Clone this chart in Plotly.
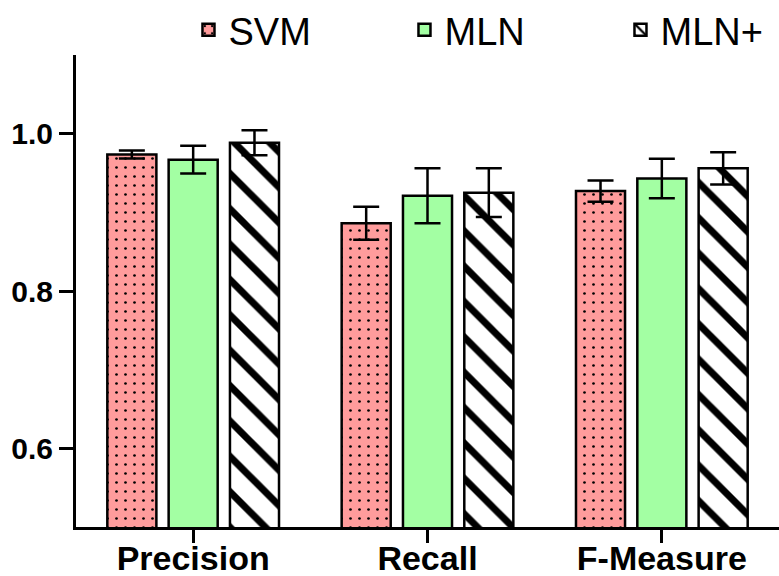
import plotly.graph_objects as go

categories = ["Precision", "Recall", "F-Measure"]
svm = [0.9735, 0.886, 0.927]
svm_err = [0.005, 0.021, 0.0135]
mln = [0.967, 0.921, 0.943]
mln_err = [0.0175, 0.035, 0.025]
mlnp = [0.9885, 0.925, 0.956]
mlnp_err = [0.016, 0.031, 0.0205]

series = [
    ("SVM", svm, svm_err, "#FF9C9C", dict(shape=".", fgcolor="black", bgcolor="#FF9C9C", size=9, solidity=0.07, fillmode="replace")),
    ("MLN", mln, mln_err, "#A3FFA3", None),
    ("MLN+", mlnp, mlnp_err, "white", dict(shape="\\", fgcolor="black", bgcolor="white", size=25, solidity=0.28, fillmode="replace")),
]

fig = go.Figure()
for name, vals, errs, col, pat in series:
    marker = dict(color=col, line=dict(color="black", width=2.5))
    if pat is not None:
        marker["pattern"] = pat
    fig.add_trace(go.Bar(
        name=name, x=categories, y=vals, marker=marker,
        error_y=dict(type="data", array=errs, visible=True, color="black", thickness=2.5, width=13),
    ))

fig.update_layout(
    width=779, height=576,
    margin=dict(l=76, r=0, t=55, b=49, autoexpand=False),
    paper_bgcolor="white", plot_bgcolor="white",
    barmode="group", bargap=0.215, bargroupgap=0.2,
    font=dict(family="Liberation Sans, Arial, sans-serif", color="black"),
    legend=dict(orientation="h", x=0.16, xanchor="left", y=1.053, yanchor="middle",
                font=dict(size=38, family="Liberation Sans, Arial, sans-serif"),
                entrywidth=171, entrywidthmode="pixels", bgcolor="rgba(0,0,0,0)"),
    showlegend=True,
)
fig.update_xaxes(
    range=[-0.5, 2.5], showline=True, linecolor="black", linewidth=3,
    ticks="outside", ticklen=13, tickwidth=3, tickcolor="black",
    tickfont=dict(size=34, family="Liberation Sans, Arial, sans-serif", weight="bold"),
    ticklabelstandoff=-14,
    showgrid=False, zeroline=False,
)
fig.update_yaxes(
    range=[0.5, 1.1], tickvals=[0.6, 0.8, 1.0], tickformat=".1f",
    showline=True, linecolor="black", linewidth=3,
    ticks="outside", ticklen=14, tickwidth=3, tickcolor="black",
    tickfont=dict(size=30, family="Liberation Sans, Arial, sans-serif", weight="bold"),
    showgrid=False, zeroline=False,
)

fig.write_html("out.html")
